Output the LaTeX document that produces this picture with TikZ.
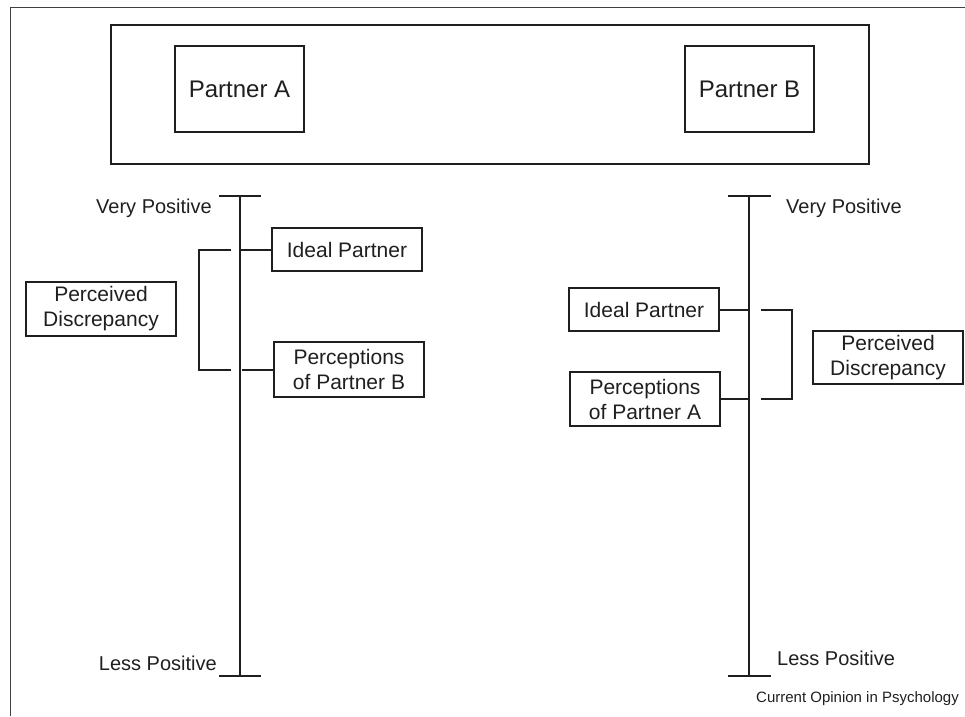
\documentclass[tikz,border=0pt]{standalone}
\usepackage{fontspec}
\setmainfont{Liberation Sans}
\usetikzlibrary{calc}
\begin{document}
\begin{tikzpicture}[x=1pt,y=-1pt,
  txtbox/.style={draw=black!88,line width=1.9pt,inner sep=0pt,minimum width=150pt,align=center,text=black!88,font=\fontsize{21}{25}\selectfont},
  bigbox/.style={draw=black!88,line width=2pt,inner sep=0pt,text=black!88,font=\fontsize{24}{28}\selectfont},
  axisline/.style={draw=black!88,line width=2.3pt},
  conn/.style={draw=black!88,line width=2pt},
  scalelbl/.style={inner sep=0pt,font=\fontsize{20}{24}\selectfont,text=black!88}]
\useasboundingbox (0,0) rectangle (965,716);
% outer frame (cropped)
\draw[black!75,line width=1pt] (10,716) -- (10,7) -- (965,7);
% top panel
\node[bigbox,minimum width=758pt,minimum height=139pt] (panel) at (490,94.5) {};
\node[bigbox,minimum width=129pt,minimum height=86pt] (pa) at (239.5,89) {Partner A};
\node[bigbox,minimum width=129pt,minimum height=86pt] (pb) at (749.5,89) {Partner B};
% axes
\coordinate (LT) at (240,196);
\coordinate (LB) at (240,676);
\coordinate (RT) at (749,196);
\coordinate (RB) at (749,676);
\draw[axisline] (LT) -- (LB);
\draw[axisline] ($(LT)+(-21,0)$) -- ($(LT)+(21,0)$);
\draw[axisline] ($(LB)+(-21,0)$) -- ($(LB)+(21,0)$);
\draw[axisline] (RT) -- (RB);
\draw[axisline] ($(RT)+(-21,0)$) -- ($(RT)+(22,0)$);
\draw[axisline] ($(RB)+(-21,0)$) -- ($(RB)+(22,0)$);
% scale labels
\node[scalelbl,anchor=east] (lvp) at (212,208) {Very Positive};
\node[scalelbl,anchor=east] (llp) at (217,663) {Less Positive};
\node[scalelbl,anchor=west] (rvp) at (786,208) {Very Positive};
\node[scalelbl,anchor=west] (rlp) at (777,658) {Less Positive};
% left side boxes
\node[txtbox,minimum height=43pt] (idealL) at (347,249.5) {Ideal Partner};
\node[txtbox,minimum height=55pt] (percB) at (349,369.5) {Perceptions\\of Partner B};
\node[txtbox,minimum height=54pt] (discL) at (101,309) {Perceived\\Discrepancy};
\draw[conn] (idealL.west) -- (idealL.west -| LT);
\draw[conn] (percB.west) -- ($(percB.west -| LT)+(2,0)$);
\draw[conn] ($(idealL.west -| LT)+(-9,0)$) -- ($(idealL.west -| LT)+(-41,0)$)
  -- ($(percB.west -| LT)+(-41,0)$) -- ($(percB.west -| LT)+(-9,0)$);
% right side boxes
\node[txtbox,minimum height=43pt] (idealR) at (644,309.5) {Ideal Partner};
\node[txtbox,minimum height=54pt] (percA) at (645,399) {Perceptions\\of Partner A};
\node[txtbox,minimum height=53pt] (discR) at (888,357.5) {Perceived\\Discrepancy};
\draw[conn] (idealR.east) -- (idealR.east -| RT);
\draw[conn] (percA.east) -- (percA.east -| RT);
\draw[conn] ($(idealR.east -| RT)+(12,0)$) -- ($(idealR.east -| RT)+(43,0)$)
  -- ($(percA.east -| RT)+(43,0)$) -- ($(percA.east -| RT)+(12,0)$);
% footer
\node[inner sep=0pt,anchor=east,font=\fontsize{15}{18}\selectfont,text=black!88] (foot) at (959,699) {Current Opinion in Psychology};
\end{tikzpicture}
\end{document}
